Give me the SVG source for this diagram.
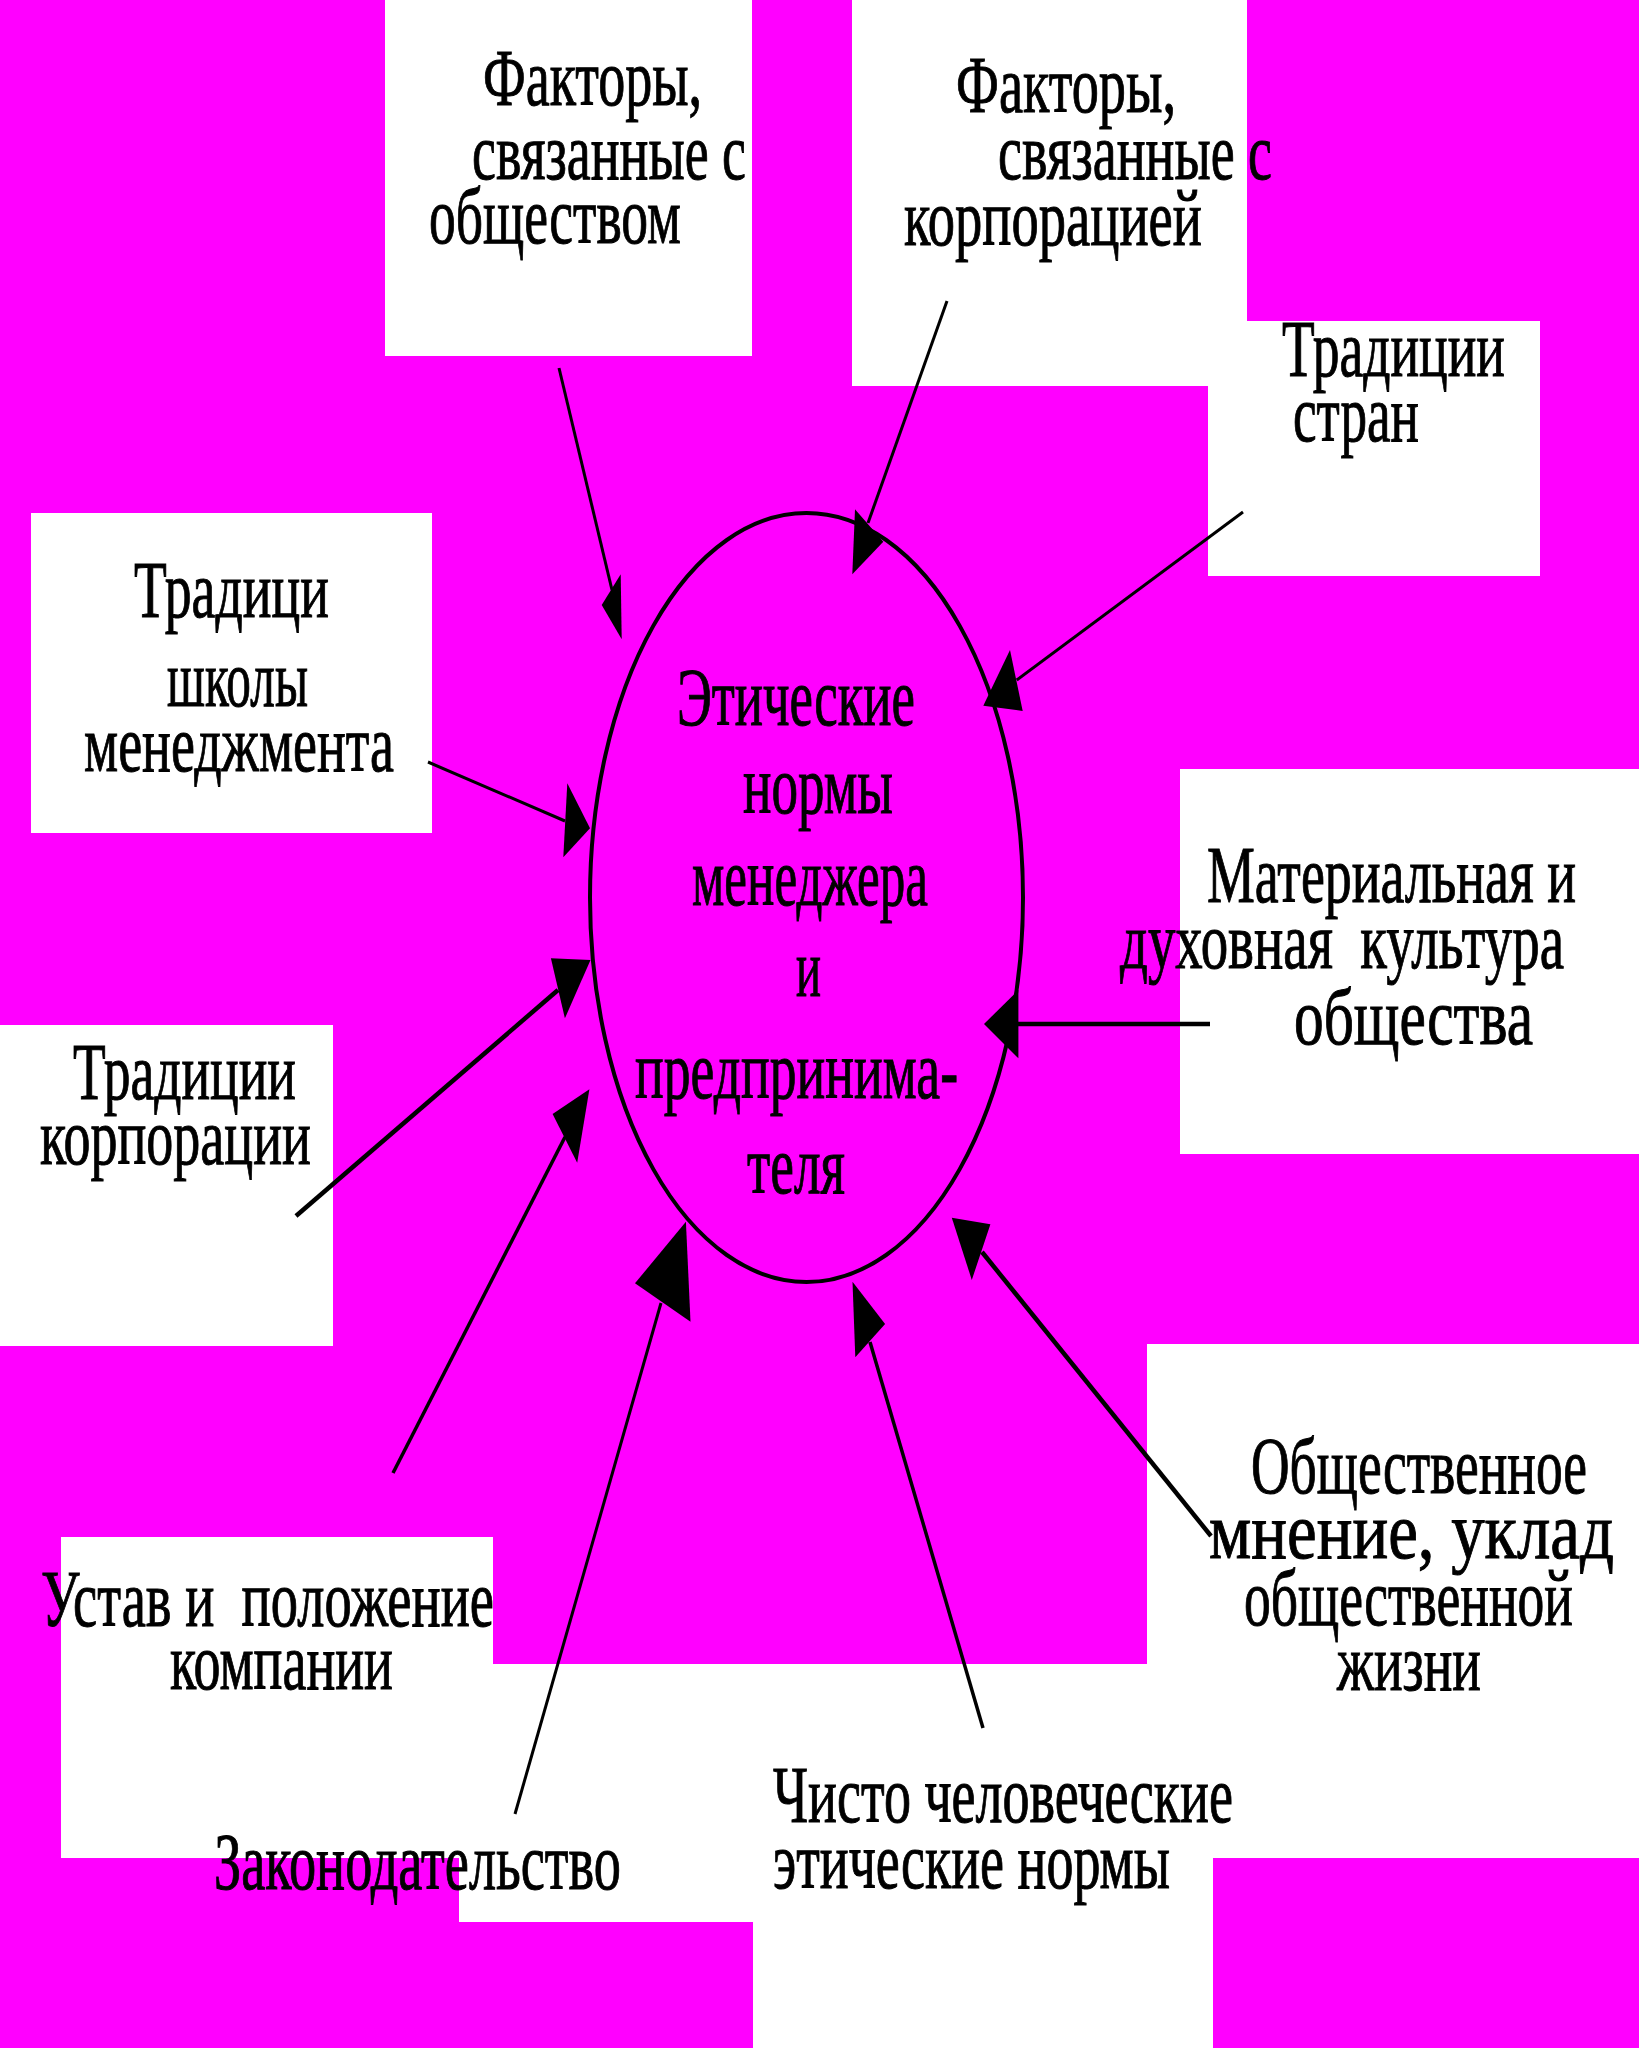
<svg xmlns="http://www.w3.org/2000/svg" width="1639" height="2048" viewBox="0 0 1639 2048">
<style>
.box{fill:#FFFFFF;stroke:none}
.t{font-family:"Liberation Serif","Times New Roman",serif;font-size:80px;fill:#000000;stroke:#000000;stroke-width:1}
.c{font-family:"Liberation Serif","Times New Roman",serif;font-size:82px;fill:#000000;stroke:#000000;stroke-width:1}
.ln{stroke:#000000;fill:none;stroke-linecap:butt}
.hd{fill:#000000;stroke:none}
</style>
<rect x="0" y="0" width="1639" height="2048" fill="#FF00FF"/>
<g id="node-factors-society">
<rect class="box" x="385" y="0" width="367" height="356"/>
<text class="t" x="483" y="105" textLength="219" lengthAdjust="spacingAndGlyphs">Факторы,</text>
<text class="t" x="472" y="179" textLength="274" lengthAdjust="spacingAndGlyphs">связанные с</text>
<text class="t" x="429" y="243" textLength="252" lengthAdjust="spacingAndGlyphs">обществом</text>
</g>
<g id="node-factors-corporation">
<rect class="box" x="852" y="0" width="395" height="386"/>
<text class="t" x="956" y="112" textLength="220" lengthAdjust="spacingAndGlyphs">Факторы,</text>
<text class="t" x="998" y="179" textLength="274" lengthAdjust="spacingAndGlyphs">связанные с</text>
<text class="t" x="904" y="245" textLength="298" lengthAdjust="spacingAndGlyphs">корпорацией</text>
</g>
<g id="node-country-traditions">
<rect class="box" x="1208" y="321" width="332" height="255"/>
<text class="t" x="1282" y="376" textLength="223" lengthAdjust="spacingAndGlyphs">Традиции</text>
<text class="t" x="1293" y="441" textLength="126" lengthAdjust="spacingAndGlyphs">стран</text>
</g>
<g id="node-school-traditions">
<rect class="box" x="31" y="513" width="401" height="320"/>
<text class="t" x="134" y="617" textLength="195" lengthAdjust="spacingAndGlyphs">Традици</text>
<text class="t" x="167" y="706" textLength="141" lengthAdjust="spacingAndGlyphs">школы</text>
<text class="t" x="84" y="771" textLength="310" lengthAdjust="spacingAndGlyphs">менеджмента</text>
</g>
<g id="node-culture">
<rect class="box" x="1180" y="769" width="459" height="385"/>
<text class="t" x="1207" y="902" textLength="369" lengthAdjust="spacingAndGlyphs">Материальная и</text>
<text class="t" x="1120" y="968" textLength="444" lengthAdjust="spacingAndGlyphs" xml:space="preserve">духовная  культура</text>
<text class="t" x="1294" y="1044" textLength="239" lengthAdjust="spacingAndGlyphs">общества</text>
</g>
<g id="node-corporation-traditions">
<rect class="box" x="0" y="1025" width="333" height="321"/>
<text class="t" x="73" y="1099" textLength="223" lengthAdjust="spacingAndGlyphs">Традиции</text>
<text class="t" x="40" y="1164" textLength="271" lengthAdjust="spacingAndGlyphs">корпорации</text>
</g>
<g id="node-public-opinion">
<rect class="box" x="1147" y="1344" width="492" height="514"/>
<text class="t" x="1251" y="1493" textLength="336" lengthAdjust="spacingAndGlyphs">Общественное</text>
<text class="t" x="1209" y="1558" textLength="405" lengthAdjust="spacingAndGlyphs">мнение, уклад</text>
<text class="t" x="1244" y="1625" textLength="329" lengthAdjust="spacingAndGlyphs">общественной</text>
<text class="t" x="1337" y="1690" textLength="144" lengthAdjust="spacingAndGlyphs">жизни</text>
</g>
<g id="node-charter">
<rect class="box" x="61" y="1537" width="432" height="321"/>
<text class="t" x="41" y="1626" textLength="453" lengthAdjust="spacingAndGlyphs" xml:space="preserve">Устав и  положение</text>
<text class="t" x="170" y="1689" textLength="223" lengthAdjust="spacingAndGlyphs">компании</text>
</g>
<g id="node-legislation">
<rect class="box" x="459" y="1664" width="688" height="258"/>
<text class="t" x="214" y="1889" textLength="407" lengthAdjust="spacingAndGlyphs">Законодательство</text>
</g>
<g id="node-human-ethics">
<rect class="box" x="753" y="1664" width="460" height="384"/>
<text class="t" x="773" y="1822" textLength="460" lengthAdjust="spacingAndGlyphs">Чисто человеческие</text>
<text class="t" x="773" y="1888" textLength="397" lengthAdjust="spacingAndGlyphs">этические нормы</text>
</g>
<g id="node-center">
<ellipse cx="806.5" cy="897.5" rx="216.5" ry="384.5" fill="none" stroke="#000000" stroke-width="4"/>
<text class="c" x="677" y="725" textLength="238" lengthAdjust="spacingAndGlyphs">Этические</text>
<text class="c" x="743" y="813" textLength="150" lengthAdjust="spacingAndGlyphs">нормы</text>
<text class="c" x="692" y="905" textLength="236" lengthAdjust="spacingAndGlyphs">менеджера</text>
<text class="c" x="796" y="996" textLength="25" lengthAdjust="spacingAndGlyphs">и</text>
<text class="c" x="635" y="1098" textLength="323" lengthAdjust="spacingAndGlyphs">предпринима-</text>
<text class="c" x="747" y="1193" textLength="98" lengthAdjust="spacingAndGlyphs">теля</text>
</g>
<g id="connectors">
<line class="ln" x1="559" y1="368" x2="612" y2="590" stroke-width="3"/>
<polygon class="hd" points="621.7,639.3 620.7,574.3 601.7,605"/>
<line class="ln" x1="947" y1="301" x2="868" y2="523" stroke-width="3"/>
<polygon class="hd" points="852.3,574.3 855,509.3 883.3,541.7"/>
<line class="ln" x1="1243" y1="512" x2="1016.7" y2="680" stroke-width="3"/>
<polygon class="hd" points="983.3,705.7 1010,650 1022.7,711"/>
<line class="ln" x1="428" y1="762" x2="565" y2="821" stroke-width="3"/>
<polygon class="hd" points="590,828.3 567.3,783.3 563.3,857.3"/>
<line class="ln" x1="296" y1="1216" x2="558" y2="990" stroke-width="4.5"/>
<polygon class="hd" points="590.5,960 550.9,958.3 564.9,1018.3"/>
<line class="ln" x1="393" y1="1473" x2="565" y2="1137" stroke-width="3.5"/>
<polygon class="hd" points="589.4,1089.3 552.6,1114 577.2,1162.7"/>
<line class="ln" x1="515" y1="1814" x2="661" y2="1303" stroke-width="3"/>
<polygon class="hd" points="685.9,1221.7 635,1283.3 690.5,1321.7"/>
<line class="ln" x1="983" y1="1728" x2="870" y2="1342" stroke-width="3.5"/>
<polygon class="hd" points="852.5,1281.7 885.1,1324 855.3,1357.3"/>
<line class="ln" x1="1211" y1="1536" x2="982" y2="1252" stroke-width="4.5"/>
<polygon class="hd" points="951.8,1217.7 990.4,1224.3 971.8,1280"/>
<line class="ln" x1="1210" y1="1024" x2="1018" y2="1024" stroke-width="4.5"/>
<polygon class="hd" points="984,1024 1018.4,990 1018.4,1058.3"/>
</g>
</svg>
